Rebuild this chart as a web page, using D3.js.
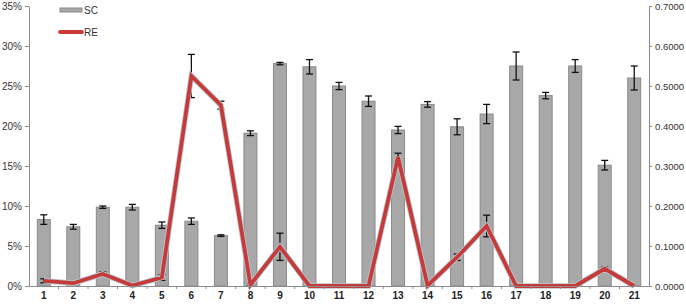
<!DOCTYPE html>
<html>
<head>
<meta charset="utf-8">
<script src="https://cdn.jsdelivr.net/npm/d3@7"></script>
<style>
  body { margin: 0; background: #fff; }
  svg { display: block; font-family: "Liberation Sans", Arial, sans-serif; }
</style>
</head>
<body>
<svg id="chart"></svg>
<script>
// categories
const categories = d3.range(1, 22).map(String);

// SC (bars, left axis, %)
const scValues = [8.3, 7.4, 9.85, 9.85, 7.6, 8.1, 6.3, 19.1, 27.8, 27.4, 25.0, 23.1, 19.5, 22.7, 19.9, 21.5, 27.5, 23.8, 27.5, 15.1, 26.0];
const scErrors = [0.6, 0.3, 0.15, 0.35, 0.4, 0.4, 0.1, 0.3, 0.15, 0.9, 0.45, 0.65, 0.45, 0.35, 1.0, 1.2, 1.75, 0.4, 0.8, 0.6, 1.5];

// RE (line, right axis)
const reValues = [0.013, 0.007, 0.030, 0.001, 0.021, 0.525, 0.452, 0.003, 0.098, 0, 0, 0, 0.322, 0.001, 0.072, 0.150, 0, 0, 0, 0.043, 0];
const reErrors = [0.005, 0, 0.005, 0, 0.007, 0.054, 0.01, 0.004, 0.034, 0, 0, 0, 0.01, 0, 0.008, 0.027, 0, 0, 0, 0.004, 0];

const leftTicks = [0, 5, 10, 15, 20, 25, 30, 35];
const rightTicks = [0, 0.1, 0.2, 0.3, 0.4, 0.5, 0.6, 0.7];

const width = 686, height = 304;
const margin = { top: 6, right: 37, bottom: 18, left: 29 };

const svg = d3.select("#chart")
  .attr("width", width)
  .attr("height", height)
  .attr("viewBox", [0, 0, width, height]);

const x = d3.scaleBand()
  .domain(categories)
  .range([margin.left, width - margin.right]);

const yL = d3.scaleLinear().domain([0, 35]).range([height - margin.bottom, margin.top]);
const yR = d3.scaleLinear().domain([0, 0.7]).range([height - margin.bottom, margin.top]);

const axisColor = "#8c8c8c";
const textColor = "#333";

// bars
const barW = 13;
svg.append("g")
  .selectAll("rect")
  .data(scValues)
  .join("rect")
    .attr("x", (d, i) => x(categories[i]) + x.bandwidth() / 2 - barW / 2)
    .attr("y", d => yL(d))
    .attr("width", barW)
    .attr("height", d => yL(0) - yL(d))
    .attr("fill", "#a8a8a8")
    .attr("stroke", "#8a8a8a")
    .attr("stroke-width", 1);

function errorBars(g, vals, errs, y) {
  const data = vals.map((v, i) => ({ c: categories[i], v, e: errs[i] })).filter(d => d.e > 0);
  const cx = d => x(d.c) + x.bandwidth() / 2;
  g.selectAll(".stem")
    .data(data)
    .join("line")
      .attr("x1", cx).attr("x2", cx)
      .attr("y1", d => y(d.v + d.e)).attr("y2", d => y(Math.max(0, d.v - d.e)))
      .attr("stroke", "#111").attr("stroke-width", 1.3);
  ["top", "bot"].forEach(k => {
    g.selectAll(".cap" + k)
      .data(data)
      .join("line")
        .attr("x1", d => cx(d) - 3.5).attr("x2", d => cx(d) + 3.5)
        .attr("y1", d => y(k === "top" ? d.v + d.e : Math.max(0, d.v - d.e)))
        .attr("y2", d => y(k === "top" ? d.v + d.e : Math.max(0, d.v - d.e)))
        .attr("stroke", "#111").attr("stroke-width", 1.3);
  });
}

errorBars(svg.append("g"), scValues, scErrors, yL);
errorBars(svg.append("g"), reValues, reErrors, yR);

// RE line
const line = d3.line()
  .x((d, i) => x(categories[i]) + x.bandwidth() / 2)
  .y(d => yR(d));

svg.append("path")
  .datum(reValues)
  .attr("d", line)
  .attr("fill", "none")
  .attr("stroke", "#b9c6cc")
  .attr("stroke-width", 5.5)
  .attr("stroke-linejoin", "miter");

svg.append("path")
  .datum(reValues)
  .attr("d", line)
  .attr("fill", "none")
  .attr("stroke", "#c63a3a")
  .attr("stroke-width", 3.8)
  .attr("stroke-linejoin", "miter");

// axes
const styleAxis = (g, size) => {
  g.selectAll(".domain").attr("stroke", axisColor);
  g.selectAll(".tick line").attr("stroke", axisColor);
  g.selectAll("text").attr("fill", textColor).style("font-size", size || "10px");
};

svg.append("g")
  .attr("transform", `translate(${margin.left},0)`)
  .call(d3.axisLeft(yL).tickValues(leftTicks).tickFormat(d => d + "%").tickSize(4).tickSizeOuter(0).tickPadding(3))
  .call(g => styleAxis(g));

svg.append("g")
  .attr("transform", `translate(${width - margin.right},0)`)
  .call(d3.axisRight(yR).tickValues(rightTicks).tickFormat(d3.format(".4f")).tickSize(3).tickSizeOuter(0).tickPadding(3))
  .call(g => styleAxis(g, "9.5px"));

const gx = svg.append("g")
  .attr("transform", `translate(0,${height - margin.bottom})`)
  .call(d3.axisBottom(x).tickSize(0).tickSizeOuter(0).tickPadding(6))
  .call(g => styleAxis(g));
gx.selectAll("text").style("font-weight", "bold").attr("fill", "#222");

// small ticks between categories
svg.append("g")
  .selectAll("line")
  .data(categories.slice(1))
  .join("line")
    .attr("x1", d => x(d)).attr("x2", d => x(d))
    .attr("y1", yL(0)).attr("y2", yL(0) + 3)
    .attr("stroke", axisColor);

// legend
const lg = svg.append("g");
lg.append("rect")
  .attr("x", 60).attr("y", 8).attr("width", 22).attr("height", 4)
  .attr("fill", "#a8a8a8").attr("stroke", "#8a8a8a");
lg.append("text").attr("x", 84).attr("y", 14).text("SC")
  .attr("fill", textColor).style("font-size", "10px");
lg.append("line")
  .attr("x1", 60).attr("x2", 82).attr("y1", 32).attr("y2", 32)
  .attr("stroke", "#c63a3a").attr("stroke-width", 3.8).attr("stroke-linecap", "round");
lg.append("text").attr("x", 84).attr("y", 36).text("RE")
  .attr("fill", textColor).style("font-size", "10px");
</script>
</body>
</html>
